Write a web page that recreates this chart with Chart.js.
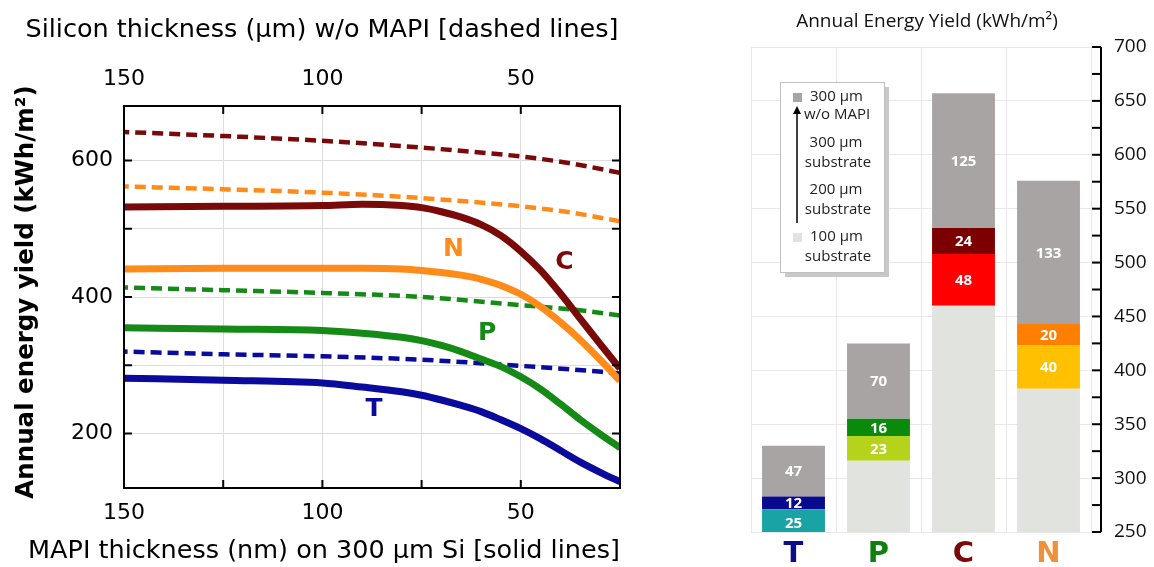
<!DOCTYPE html>
<html>
<head>
<meta charset="utf-8">
<script src="https://cdn.jsdelivr.net/npm/chart.js@4.4.0/dist/chart.umd.min.js"></script>
<style>
html, body { margin: 0; padding: 0; background: #fff; width: 1154px; height: 567px; overflow: hidden; }
#left { position: absolute; left: 0; top: 0; width: 640px; height: 567px; }
#right { position: absolute; left: 745px; top: 0; width: 409px; height: 567px; }
</style>
</head>
<body>
<div id="left"><canvas id="lineChart"></canvas></div>
<div id="right"><canvas id="barChart"></canvas></div>
<script>
// left panel: yield vs thickness
const mapiThickness = [150, 125, 100, 90, 80, 75, 70, 65, 60, 55, 50, 45, 40, 35, 30, 25];
const solidC = [532, 533, 534, 536, 534, 531, 525, 517, 506, 490, 467, 439, 405, 368, 331, 295];
const solidN = [441, 442, 442, 442, 441, 439, 436, 432, 426, 417, 404, 386, 363, 337, 308, 277];
const solidP = [355, 353, 351, 347, 341, 336, 329, 320, 309, 298, 283, 265, 243, 220, 199, 179];
const solidT = [281, 278, 274, 268, 261, 256, 249, 241, 232, 220, 207, 192, 175, 158, 143, 129];

const siliconThickness = [150, 125, 100, 75, 50, 37.5, 25];
const dashedC = [642, 636, 629, 619, 606, 596, 582];
const dashedN = [562, 558, 553, 545, 533, 524, 511];
const dashedP = [414, 410, 406, 400, 388, 382, 373];
const dashedT = [320, 316, 313, 308, 299, 294, 288];

const xLabelTicks = [150, 100, 50];
const yLabelTicks = [200, 400, 600];

// right panel: stacked yield per cell type
const categories = ['T', 'P', 'C', 'N'];
const base100 = [246, 316, 460, 383];
const gain200 = [25, 23, 48, 40];
const gain300 = [12, 16, 24, 20];
const gainNoMapi = [47, 70, 125, 133];

const colC = '#7a0a0a', colN = '#ff8c1a', colP = '#168a16', colT = '#0a0a9c';

function pts(xs, ys) {
    // ascending x so the monotone spline behaves
    return xs.map((x, i) => ({x: x, y: ys[i]})).sort((a, b) => a.x - b.x);
}

function solid(label, xs, ys, color) {
    return {label, data: pts(xs, ys), xAxisID: 'x', borderColor: color, borderWidth: 7,
        pointRadius: 0, cubicInterpolationMode: 'monotone', fill: false};
}

function dashed(label, xs, ys, color) {
    return {label, data: pts(xs, ys), xAxisID: 'x2', borderColor: color, borderWidth: 4.5,
        borderDash: [11, 6], pointRadius: 0, cubicInterpolationMode: 'monotone', fill: false};
}

const leftFont = 'DejaVu Sans';

const leftDecor = {
    id: 'leftDecor',
    afterDraw(chart) {
        const {ctx, chartArea: a, scales} = chart;
        ctx.save();
        ctx.strokeStyle = '#000';
        ctx.lineWidth = 2;
        ctx.strokeRect(a.left, a.top, a.right - a.left, a.bottom - a.top);
        [125, 100, 75, 50].forEach(v => {
            const px = scales.x.getPixelForValue(v);
            ctx.beginPath();
            ctx.moveTo(px, a.bottom); ctx.lineTo(px, a.bottom - 8);
            ctx.moveTo(px, a.top); ctx.lineTo(px, a.top + 8);
            ctx.stroke();
        });
        [200, 300, 400, 500, 600].forEach(v => {
            const py = scales.y.getPixelForValue(v);
            ctx.beginPath();
            ctx.moveTo(a.left, py); ctx.lineTo(a.left + 8, py);
            ctx.moveTo(a.right, py); ctx.lineTo(a.right - 8, py);
            ctx.stroke();
        });

        // curve labels
        ctx.font = 'bold 25px "' + leftFont + '"';
        ctx.textAlign = 'center';
        ctx.textBaseline = 'middle';
        [['N', 67, 469, colN], ['C', 39, 450, colC], ['P', 58.5, 347, colP], ['T', 87, 235, colT]].forEach(l => {
            ctx.fillStyle = l[3];
            ctx.fillText(l[0], scales.x.getPixelForValue(l[1]), scales.y.getPixelForValue(l[2]));
        });

        // axis titles
        ctx.fillStyle = '#000';
        ctx.font = '25.5px "' + leftFont + '"';
        ctx.fillText('Silicon thickness (µm) w/o MAPI [dashed lines]', 322, 30);
        ctx.fillText('MAPI thickness (nm) on 300 µm Si [solid lines]', 324, 551);
        ctx.translate(27, 292);
        ctx.rotate(-Math.PI / 2);
        ctx.font = 'bold 24.5px "' + leftFont + '"';
        ctx.fillText('Annual energy yield (kWh/m²)', 0, 0);
        ctx.restore();
    }
};

const lineCtx = document.getElementById('lineChart');
new Chart(lineCtx, {
    type: 'line',
    data: {
        datasets: [
            solid('C', mapiThickness, solidC, colC),
            solid('N', mapiThickness, solidN, colN),
            solid('P', mapiThickness, solidP, colP),
            solid('T', mapiThickness, solidT, colT),
            dashed('C w/o MAPI', siliconThickness, dashedC, colC),
            dashed('N w/o MAPI', siliconThickness, dashedN, colN),
            dashed('P w/o MAPI', siliconThickness, dashedP, colP),
            dashed('T w/o MAPI', siliconThickness, dashedT, colT)
        ]
    },
    options: {
        responsive: true,
        maintainAspectRatio: false,
        animation: false,
        layout: {padding: {right: 20}},
        plugins: {legend: {display: false}, tooltip: {enabled: false}},
        scales: {
            x: {
                type: 'linear', position: 'bottom', reverse: true, min: 25, max: 150,
                afterFit: s => { s.height = 79; },
                grid: {drawTicks: false, color: c => (c.tick.value > 25 && c.tick.value < 150) ? '#dcdcdc' : 'rgba(0,0,0,0)'},
                border: {display: false},
                ticks: {stepSize: 25, padding: 12, color: '#000', font: {family: leftFont, size: 22},
                    maxRotation: 0, autoSkip: false,
                    callback: v => xLabelTicks.includes(v) ? String(v) : ''}
            },
            x2: {
                type: 'linear', position: 'top', reverse: true, min: 25, max: 150,
                afterFit: s => { s.height = 106; },
                grid: {display: false, drawTicks: false},
                border: {display: false},
                ticks: {stepSize: 25, padding: 14, color: '#000', font: {family: leftFont, size: 22},
                    maxRotation: 0, autoSkip: false,
                    callback: v => xLabelTicks.includes(v) ? String(v) : ''}
            },
            y: {
                min: 120, max: 680,
                afterFit: s => { s.width = 124; },
                grid: {drawTicks: false, color: c => (c.tick.value % 100 === 0) ? '#dcdcdc' : 'rgba(0,0,0,0)'},
                border: {display: false},
                ticks: {stepSize: 100, padding: 11, color: '#000', font: {family: leftFont, size: 22},
                    autoSkip: false,
                    callback: v => yLabelTicks.includes(v) ? String(v) : ''}
            }
        }
    },
    plugins: [leftDecor]
});

// right panel
const rightFont = 'Open Sans';
const catColors = ['#0d0d8c', '#0f7f0f', '#7a0a0a', '#f0913a'];

const rightDecor = {
    id: 'rightDecor',
    afterDatasetsDraw(chart) {
        const ctx = chart.ctx;
        ctx.save();
        ctx.fillStyle = '#fff';
        ctx.font = 'bold 15px "' + rightFont + '"';
        ctx.textAlign = 'center';
        ctx.textBaseline = 'middle';
        [1, 2, 3].forEach(di => {
            const meta = chart.getDatasetMeta(di);
            meta.data.forEach((bar, i) => {
                const v = chart.data.datasets[di].data[i];
                ctx.fillText(String(v), bar.x, (bar.y + bar.base) / 2 + 1);
            });
        });
        ctx.restore();
    },
    afterDraw(chart) {
        const {ctx, chartArea: a, scales} = chart;
        const axisX = a.right + 10;
        ctx.save();
        // grid extension and axis line with inward ticks
        ctx.strokeStyle = '#e8e8e8';
        ctx.lineWidth = 1;
        for (let v = 250; v <= 700; v += 50) {
            const py = Math.round(scales.y.getPixelForValue(v)) + 0.5;
            ctx.beginPath();
            ctx.moveTo(a.right, py); ctx.lineTo(axisX, py);
            ctx.stroke();
        }
        ctx.strokeStyle = '#000';
        ctx.lineWidth = 2;
        ctx.beginPath();
        ctx.moveTo(axisX, a.top); ctx.lineTo(axisX, a.bottom);
        ctx.stroke();
        for (let v = 250; v <= 700; v += 25) {
            const py = scales.y.getPixelForValue(v);
            ctx.beginPath();
            ctx.moveTo(axisX, py); ctx.lineTo(axisX - 9, py);
            ctx.stroke();
        }
        // title
        ctx.fillStyle = '#111';
        ctx.font = '19px "' + rightFont + '"';
        ctx.textAlign = 'center';
        ctx.textBaseline = 'middle';
        ctx.fillText('Annual Energy Yield (kWh/m²)', 182, 22);

        // legend box
        ctx.fillStyle = '#c8c8c8';
        ctx.fillRect(40, 87, 104, 190);
        ctx.fillStyle = '#fff';
        ctx.fillRect(35, 82, 104, 190);
        ctx.strokeStyle = '#c0c0c0';
        ctx.lineWidth = 1;
        ctx.strokeRect(35.5, 82.5, 104, 190);

        ctx.fillStyle = '#a8a4a4';
        ctx.fillRect(48, 93, 9, 9);
        ctx.fillStyle = '#e1e3df';
        ctx.fillRect(48, 233, 9, 9);

        ctx.strokeStyle = '#000';
        ctx.lineWidth = 1.5;
        ctx.beginPath();
        ctx.moveTo(52, 223); ctx.lineTo(52, 110);
        ctx.stroke();
        ctx.fillStyle = '#000';
        ctx.beginPath();
        ctx.moveTo(52, 106); ctx.lineTo(48, 114); ctx.lineTo(56, 114);
        ctx.closePath();
        ctx.fill();

        ctx.fillStyle = '#222';
        ctx.font = '15px "' + rightFont + '"';
        ctx.textAlign = 'left';
        ctx.fillText('300 µm', 65, 97);
        ctx.fillText('w/o MAPI', 59, 115);
        ctx.fillText('100 µm', 65, 237);
        ctx.textAlign = 'center';
        ctx.fillText('300 µm', 91, 143);
        ctx.fillText('substrate', 93, 163);
        ctx.fillText('200 µm', 91, 190);
        ctx.fillText('substrate', 93, 210);
        ctx.fillText('substrate', 93, 257);
        ctx.restore();
    }
};

const barCtx = document.getElementById('barChart');
new Chart(barCtx, {
    type: 'bar',
    data: {
        labels: categories,
        datasets: [
            {label: '100 µm substrate', data: base100, backgroundColor: '#e1e3df'},
            {label: '200 µm substrate', data: gain200, backgroundColor: ['#1aa3a5', '#b5d31a', '#ff0000', '#ffc000']},
            {label: '300 µm substrate', data: gain300, backgroundColor: ['#0a0a8e', '#0a8a0a', '#7d0000', '#ff7f00']},
            {label: '300 µm w/o MAPI', data: gainNoMapi, backgroundColor: '#a8a4a4'}
        ]
    },
    options: {
        responsive: true,
        maintainAspectRatio: false,
        animation: false,
        layout: {padding: {top: 47, left: 6}},
        datasets: {bar: {categoryPercentage: 1, barPercentage: 0.74}},
        plugins: {legend: {display: false}, tooltip: {enabled: false}},
        scales: {
            x: {
                stacked: true,
                afterFit: s => { s.height = 35; },
                grid: {offset: true, drawTicks: false, color: '#e8e8e8'},
                border: {display: false},
                ticks: {padding: 5, color: c => catColors[c.index], font: {family: 'DejaVu Sans', size: 29, weight: 'bold'}}
            },
            y: {
                stacked: true, position: 'right', min: 250, max: 700,
                afterFit: s => { s.width = 63; },
                grid: {drawTicks: false, color: c => (c.tick.value % 50 === 0) ? '#e8e8e8' : 'rgba(0,0,0,0)'},
                border: {display: false},
                ticks: {stepSize: 25, padding: 23, color: '#111', font: {family: rightFont, size: 19},
                    autoSkip: false,
                    callback: v => v % 50 === 0 ? String(v) : ''}
            }
        }
    },
    plugins: [rightDecor]
});
</script>
</body>
</html>
